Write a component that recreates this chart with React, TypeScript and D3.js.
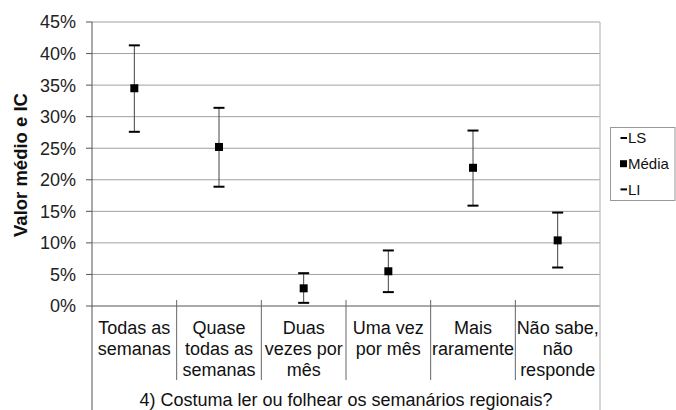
import React from "react";
import * as d3 from "d3";

const categories: string[][] = [
  ["Todas as", "semanas"],
  ["Quase", "todas as", "semanas"],
  ["Duas", "vezes por", "mês"],
  ["Uma vez", "por mês"],
  ["Mais", "raramente"],
  ["Não sabe,", "não", "responde"],
];
const media = [34.5, 25.2, 2.8, 5.5, 21.9, 10.4];
const ls = [41.3, 31.4, 5.2, 8.8, 27.8, 14.8];
const li = [27.6, 18.9, 0.5, 2.2, 15.9, 6.1];
const yTicks = [0, 5, 10, 15, 20, 25, 30, 35, 40, 45];
const groupTitle = "4) Costuma ler ou folhear os semanários regionais?";
const yTitle = "Valor médio e IC";
const legendItems = ["LS", "Média", "LI"];

export default function App() {
  const W = 676, H = 410;
  const left = 92, right = 600, top = 22, bottom = 306;
  const font = "'Liberation Sans', Arial, sans-serif";
  const y = d3.scaleLinear().domain([0, 45]).range([bottom, top]);
  const band = d3.scaleBand<number>().domain(d3.range(categories.length)).range([left, right]).padding(0);
  const cx = (i: number) => (band(i) as number) + band.bandwidth() / 2;
  const boundaries = d3.range(categories.length + 1).map((i) => left + i * band.bandwidth());

  return (
    <svg width={W} height={H} style={{ position: "absolute", left: 0, top: 0, background: "#fff" }} fontFamily={font}>
      {/* gridlines */}
      {yTicks.map((t) => (
        <line key={"g" + t} x1={left} x2={right} y1={y(t)} y2={y(t)} stroke={t === 0 ? "#555" : "#a0a0a0"} strokeWidth={1} />
      ))}
      {/* right border */}
      <line x1={right} x2={right} y1={top} y2={H} stroke="#bbb" strokeWidth={1.2} />
      {/* y axis */}
      <line x1={left} x2={left} y1={top} y2={H} stroke="#555" strokeWidth={1} />
      {yTicks.map((t) => (
        <g key={"t" + t}>
          <line x1={left - 6} x2={left} y1={y(t)} y2={y(t)} stroke="#555" />
          <text x={76} y={y(t)} dy="0.36em" textAnchor="end" fontSize={18} fill="#222">{t}%</text>
        </g>
      ))}
      {/* category separators */}
      {boundaries.slice(1, -1).map((b, i) => (
        <line key={"s" + i} x1={b} x2={b} y1={bottom - 6} y2={380} stroke="#666" strokeWidth={1} />
      ))}
      {/* category labels */}
      {categories.map((lines, i) => (
        <text key={"c" + i} x={cx(i)} textAnchor="middle" fontSize={18} fill="#111">
          {lines.map((l, j) => (
            <tspan key={j} x={cx(i)} y={327.7 + j * 20.7} dy="0.36em">{l}</tspan>
          ))}
        </text>
      ))}
      <text x={346} y={399.5} dy="0.36em" textAnchor="middle" fontSize={18} fill="#111">{groupTitle}</text>
      {/* y title */}
      <text transform={`translate(20,${165}) rotate(-90)`} textAnchor="middle" dy="0.36em" fontSize={18.5} fontWeight="bold" fill="#111">{yTitle}</text>
      {/* error bars */}
      {media.map((m, i) => (
        <g key={"e" + i}>
          <line x1={cx(i)} x2={cx(i)} y1={y(ls[i])} y2={y(li[i])} stroke="#444" strokeWidth={1} />
          <line x1={cx(i) - 5.5} x2={cx(i) + 5.5} y1={y(ls[i])} y2={y(ls[i])} stroke="#000" strokeWidth={2} />
          <line x1={cx(i) - 5.5} x2={cx(i) + 5.5} y1={y(li[i])} y2={y(li[i])} stroke="#000" strokeWidth={2} />
          <rect x={cx(i) - 4} y={y(m) - 4} width={8} height={8} fill="#000" />
        </g>
      ))}
      {/* legend */}
      <rect x={610.5} y={127.5} width={64.5} height={73} fill="#fff" stroke="#999" strokeWidth={1} />
      {legendItems.map((name, i) => {
        const ly = 138 + i * 25.7;
        return (
          <g key={"l" + i}>
            {name === "Média" ? (
              <rect x={620} y={ly - 3.5} width={7} height={7} fill="#000" />
            ) : (
              <line x1={620.5} x2={627} y1={ly} y2={ly} stroke="#000" strokeWidth={2} />
            )}
            <text x={628} y={ly} dy="0.36em" fontSize={15} fill="#111">{name}</text>
          </g>
        );
      })}
    </svg>
  );
}
